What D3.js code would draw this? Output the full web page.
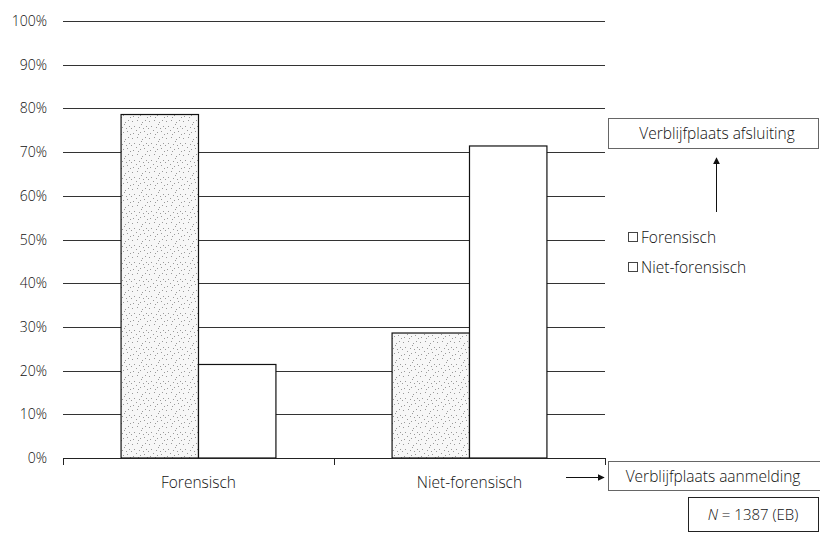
<!DOCTYPE html>
<html>
<head>
<meta charset="utf-8">
<script src="https://cdn.jsdelivr.net/npm/d3@7"></script>
<style>
body { margin: 0; background: #fff; }
text { font-family: "Open Sans", sans-serif; font-weight: 300; fill: #111; }
</style>
</head>
<body>
<script>
var categories = ["Forensisch", "Niet-forensisch"];
var series = ["Forensisch", "Niet-forensisch"];
var forensisch = [78.6, 28.6];
var nietForensisch = [21.4, 71.4];
var yTicks = [0, 10, 20, 30, 40, 50, 60, 70, 80, 90, 100];

window.onload = drawChart();

function drawChart(){

    var width = 820,
        height = 536;

    var svg = d3.select("body")
        .append("svg")
        .attr("width", width)
        .attr("height", height);

    // speckled texture for the first series
    var defs = svg.append("defs");
    var pat = defs.append("pattern")
        .attr("id", "dots")
        .attr("patternUnits", "userSpaceOnUse")
        .attr("width", 17)
        .attr("height", 17);
    pat.append("rect").attr("width", 17).attr("height", 17).attr("fill", "#f7f7f7");
    var dotPos = [[1,2],[6,1],[11,3],[15,7],[3,7],[8,8],[13,12],[2,14],[7,15],[14,1],[5,11],[10,5],[0,9],[9,13],[16,15],[12,9]];
    pat.selectAll("rect.d")
        .data(dotPos)
        .enter()
        .append("rect")
        .attr("class", "d")
        .attr("x", function(d){ return d[0]; })
        .attr("y", function(d){ return d[1]; })
        .attr("width", 1)
        .attr("height", 1)
        .attr("fill", "#9a9a9a");

    var x0 = d3.scaleBand()
        .domain(categories)
        .range([63, 605]);

    var x1 = d3.scaleBand()
        .domain(series)
        .range([0, x0.bandwidth()])
        .paddingOuter(0.75);

    var y = d3.scaleLinear()
        .domain([0, 100])
        .range([458, 21]);

    // gridlines
    svg.selectAll(".grid")
        .data(yTicks.filter(function(d){ return d > 0; }))
        .enter()
        .append("line")
        .attr("class", "grid")
        .attr("x1", 63)
        .attr("x2", 605)
        .attr("y1", function(d){ return Math.round(y(d)) + 0.5; })
        .attr("y2", function(d){ return Math.round(y(d)) + 0.5; })
        .attr("stroke", "#333")
        .attr("stroke-width", 1);

    // y labels
    svg.selectAll(".ylab")
        .data(yTicks)
        .enter()
        .append("text")
        .attr("x", 47)
        .attr("y", function(d){ return y(d) + 5; })
        .attr("text-anchor", "end")
        .style("font-size", "14px")
        .text(function(d){ return d + "%"; });

    // bars
    var rows = categories.map(function(c, i){
        return [
            {cat: c, s: series[0], v: forensisch[i]},
            {cat: c, s: series[1], v: nietForensisch[i]}
        ];
    });

    var groups = svg.selectAll(".group")
        .data(rows)
        .enter()
        .append("g")
        .attr("transform", function(d){ return "translate(" + x0(d[0].cat) + ",0)"; });

    groups.selectAll("rect")
        .data(function(d){ return d; })
        .enter()
        .append("rect")
        .attr("x", function(d){ return x1(d.s); })
        .attr("y", function(d){ return y(d.v); })
        .attr("width", x1.bandwidth())
        .attr("height", function(d){ return y(0) - y(d.v); })
        .attr("fill", function(d){ return d.s === series[0] ? "url(#dots)" : "#fff"; })
        .attr("stroke", "#111")
        .attr("stroke-width", 1.2);

    // x axis
    var xAxis = svg.append("g");
    xAxis.append("line")
        .attr("x1", 63).attr("x2", 605)
        .attr("y1", 458.5).attr("y2", 458.5)
        .attr("stroke", "#222");
    var tickX = [63, 63 + x0.bandwidth(), 605];
    xAxis.selectAll(".xt")
        .data(tickX)
        .enter()
        .append("line")
        .attr("x1", function(d){ return d + 0.5; })
        .attr("x2", function(d){ return d + 0.5; })
        .attr("y1", 458)
        .attr("y2", 465)
        .attr("stroke", "#222");
    xAxis.selectAll(".xl")
        .data(categories)
        .enter()
        .append("text")
        .attr("x", function(d){ return x0(d) + x0.bandwidth() / 2; })
        .attr("y", 488)
        .attr("text-anchor", "middle")
        .style("font-size", "15.5px")
        .text(function(d){ return d; });

    // legend
    var legend = svg.selectAll(".leg")
        .data(series)
        .enter()
        .append("g")
        .attr("transform", function(d, i){ return "translate(628," + (243 + i * 30) + ")"; });
    legend.append("rect")
        .attr("x", 0.5).attr("y", -10.5)
        .attr("width", 9).attr("height", 9)
        .attr("fill", "#fff")
        .attr("stroke", "#444");
    legend.append("text")
        .attr("x", 13)
        .attr("y", 0)
        .style("font-size", "15.5px")
        .text(function(d){ return d; });

    // annotation boxes
    svg.append("marker")
        .attr("id", "arrow")
        .attr("viewBox", "0 0 10 10")
        .attr("refX", 9).attr("refY", 5)
        .attr("markerWidth", 7).attr("markerHeight", 7)
        .attr("orient", "auto")
        .append("path")
        .attr("d", "M0,0 L10,5 L0,10 z")
        .attr("fill", "#111");

    svg.append("rect")
        .attr("x", 608.5).attr("y", 118.5)
        .attr("width", 210).attr("height", 30)
        .attr("fill", "#fff").attr("stroke", "#666");
    svg.append("text")
        .attr("x", 717).attr("y", 139)
        .attr("text-anchor", "middle")
        .style("font-size", "15.5px")
        .text("Verblijfplaats afsluiting");
    svg.append("line")
        .attr("x1", 716.5).attr("y1", 212)
        .attr("x2", 716.5).attr("y2", 158)
        .attr("stroke", "#111")
        .attr("marker-end", "url(#arrow)");

    svg.append("rect")
        .attr("x", 608.5).attr("y", 461.5)
        .attr("width", 212).attr("height", 29)
        .attr("fill", "#fff").attr("stroke", "#666");
    svg.append("text")
        .attr("x", 713).attr("y", 482)
        .attr("text-anchor", "middle")
        .style("font-size", "15.5px")
        .text("Verblijfplaats aanmelding");
    svg.append("line")
        .attr("x1", 566).attr("y1", 477.5)
        .attr("x2", 604).attr("y2", 477.5)
        .attr("stroke", "#111")
        .attr("marker-end", "url(#arrow)");

    svg.append("rect")
        .attr("x", 688.5).attr("y", 497.5)
        .attr("width", 130).attr("height", 34)
        .attr("fill", "#fff").attr("stroke", "#222");
    var nText = svg.append("text")
        .attr("x", 753).attr("y", 520)
        .attr("text-anchor", "middle")
        .style("font-size", "15px");
    nText.append("tspan").style("font-style", "italic").text("N");
    nText.append("tspan").text(" = 1387 (EB)");
};
</script>
</body>
</html>
